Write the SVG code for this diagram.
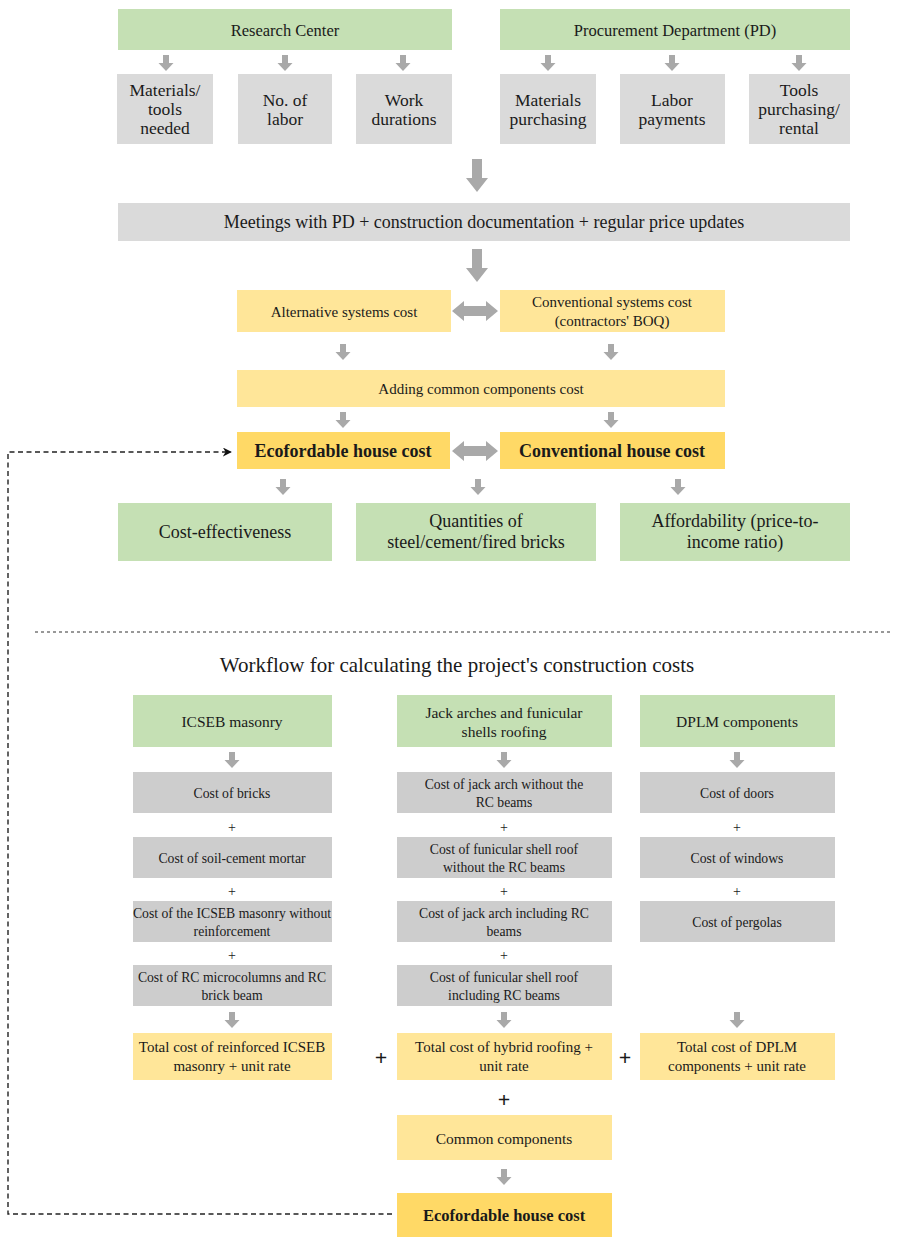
<svg xmlns="http://www.w3.org/2000/svg" xmlns:xlink="http://www.w3.org/1999/xlink" width="899" height="1251" viewBox="0 0 899 1251">
<style>
text{font-family:"Liberation Serif","Times New Roman",serif;fill:#1a1a1a;text-anchor:middle;dominant-baseline:central}
.g{fill:#c5e0b4}
.gr{fill:#dadada}
.gr2{fill:#cdcdcd}
.y{fill:#ffe699}
.yb{fill:#ffd966}
.f16{font-size:16.5px}
.f18{font-size:18px}
.f17{font-size:17.5px}
.ft{font-size:21px}
.f14{font-size:13.7px}
.f13{font-size:15px}
.f15{font-size:15px}
.fh{font-size:15.5px}
.b{font-weight:bold;font-size:18px}
.b2{font-weight:bold;font-size:16.5px}
.pl{font-size:14px}
.pb{font-size:22px;font-weight:bold}
.arr{fill:#a9a9a9}
.dash{fill:none;stroke:#222;stroke-width:1.4;stroke-dasharray:5,3.5}
.sep{fill:none;stroke:#333;stroke-width:1;stroke-dasharray:3,3}
</style>
<defs>
<path id="sa" d="M-3,0 H3 V8 H7.5 L0,16 L-7.5,8 H-3 Z"/>
<path id="ba" d="M-5,0 H5 V19 H11 L0,33 L-11,19 H-5 Z"/>
<marker id="ah" viewBox="0 0 10 10" refX="9" refY="5" markerWidth="9" markerHeight="9" markerUnits="userSpaceOnUse" orient="auto">
<path d="M0,0 L10,5 L0,10 L3,5 Z" fill="#111"/>
</marker>
</defs>
<rect width="899" height="1251" fill="#fff"/>

<g id="connectors">
<g class="arr">
<use xlink:href="#sa" x="166" y="55"/>
<use xlink:href="#sa" x="285" y="55"/>
<use xlink:href="#sa" x="403" y="55"/>
<use xlink:href="#sa" x="548" y="55"/>
<use xlink:href="#sa" x="672" y="55"/>
<use xlink:href="#sa" x="799" y="55"/>
<use xlink:href="#ba" x="477" y="159"/>
<use xlink:href="#ba" x="477" y="249"/>
<path d="M452,311 L464,301 V306 H486 V301 L498,311 L486,321 V316 H464 V321 Z"/>
<use xlink:href="#sa" x="343" y="344"/>
<use xlink:href="#sa" x="611" y="344"/>
<use xlink:href="#sa" x="343" y="412"/>
<use xlink:href="#sa" x="611" y="412"/>
<path d="M452,451 L464,441 V446 H486 V441 L498,451 L486,461 V456 H464 V461 Z"/>
<use xlink:href="#sa" x="283" y="479"/>
<use xlink:href="#sa" x="478" y="479"/>
<use xlink:href="#sa" x="678" y="479"/>
<use xlink:href="#sa" x="232" y="752"/>
<use xlink:href="#sa" x="504" y="752"/>
<use xlink:href="#sa" x="737" y="752"/>
<use xlink:href="#sa" x="232" y="1012"/>
<use xlink:href="#sa" x="504" y="1012"/>
<use xlink:href="#sa" x="737" y="1012"/>
<use xlink:href="#sa" x="504" y="1169"/>
</g>
<path class="dash" d="M392,1214 H8 V452 H231" marker-end="url(#ah)"/>
<path class="sep" d="M35,632 H890"/>
<g class="pl">
<text x="232" y="827">+</text>
<text x="504" y="827">+</text>
<text x="737" y="827">+</text>
<text x="232" y="891">+</text>
<text x="504" y="891">+</text>
<text x="737" y="891">+</text>
<text x="232" y="955">+</text>
<text x="504" y="955">+</text>
</g>
<g class="pb">
<text x="381" y="1057">+</text>
<text x="625" y="1057">+</text>
<text x="504" y="1099">+</text>
</g>
</g>

<g id="research-center"><rect class="g" x="118" y="9" width="334" height="41"/><text class="f16" x="285" y="30">Research Center</text></g>
<g id="procurement"><rect class="g" x="500" y="9" width="350" height="41"/><text class="f16" x="675" y="30">Procurement Department (PD)</text></g>

<g id="materials-tools"><rect class="gr" x="117" y="74" width="96" height="70"/><text class="f17" x="165" y="90">Materials/</text><text class="f17" x="165" y="109">tools</text><text class="f17" x="165" y="128">needed</text></g>
<g id="no-labor"><rect class="gr" x="238" y="74" width="94" height="70"/><text class="f17" x="285" y="100">No. of</text><text class="f17" x="285" y="119">labor</text></g>
<g id="work-durations"><rect class="gr" x="356" y="74" width="96" height="70"/><text class="f17" x="404" y="100">Work</text><text class="f17" x="404" y="119">durations</text></g>
<g id="materials-purchasing"><rect class="gr" x="500" y="74" width="96" height="70"/><text class="f17" x="548" y="100">Materials</text><text class="f17" x="548" y="119">purchasing</text></g>
<g id="labor-payments"><rect class="gr" x="620" y="74" width="105" height="70"/><text class="f17" x="672" y="100">Labor</text><text class="f17" x="672" y="119">payments</text></g>
<g id="tools-purchasing"><rect class="gr" x="749" y="74" width="101" height="70"/><text class="f17" x="799" y="90">Tools</text><text class="f17" x="799" y="109">purchasing/</text><text class="f17" x="799" y="128">rental</text></g>

<g id="meetings"><rect class="gr" x="118" y="203" width="732" height="38"/><text class="f18" x="484" y="222">Meetings with PD + construction documentation + regular price updates</text></g>

<g id="alt-systems"><rect class="y" x="237" y="290" width="214" height="42"/><text class="f13" x="344" y="312">Alternative systems cost</text></g>
<g id="conv-systems"><rect class="y" x="500" y="290" width="225" height="42"/><text class="f13" x="612" y="302">Conventional systems cost</text><text class="f13" x="612" y="321">(contractors' BOQ)</text></g>
<g id="adding-common"><rect class="y" x="237" y="370" width="488" height="37"/><text class="f13" x="481" y="389">Adding common components cost</text></g>
<g id="eco-house-1"><rect class="yb" x="237" y="432" width="213" height="37"/><text class="b" x="343" y="451">Ecofordable house cost</text></g>
<g id="conv-house"><rect class="yb" x="500" y="432" width="225" height="37"/><text class="b" x="612" y="451">Conventional house cost</text></g>

<g id="cost-effectiveness"><rect class="g" x="118" y="503" width="214" height="58"/><text class="f18" x="225" y="532">Cost-effectiveness</text></g>
<g id="quantities"><rect class="g" x="356" y="503" width="240" height="58"/><text class="f18" x="476" y="521">Quantities of</text><text class="f18" x="476" y="542">steel/cement/fired bricks</text></g>
<g id="affordability"><rect class="g" x="620" y="503" width="230" height="58"/><text class="f18" x="735" y="521">Affordability (price-to-</text><text class="f18" x="735" y="542">income ratio)</text></g>

<text class="ft" x="457" y="665">Workflow for calculating the project's construction costs</text>

<g id="icseb"><rect class="g" x="133" y="695" width="199" height="52"/><text class="fh" x="232" y="721">ICSEB masonry</text></g>
<g id="jack-arches"><rect class="g" x="397" y="695" width="215" height="52"/><text class="fh" x="504" y="712">Jack arches and funicular</text><text class="fh" x="504" y="731">shells roofing</text></g>
<g id="dplm"><rect class="g" x="640" y="695" width="195" height="52"/><text class="fh" x="737" y="721">DPLM components</text></g>

<g id="bricks"><rect class="gr2" x="133" y="772" width="199" height="41"/><text class="f14" x="232" y="793">Cost of bricks</text></g>
<g id="jack-arch-wo"><rect class="gr2" x="397" y="772" width="215" height="41"/><text class="f14" x="504" y="784">Cost of jack arch without the</text><text class="f14" x="504" y="802">RC beams</text></g>
<g id="doors"><rect class="gr2" x="640" y="772" width="195" height="41"/><text class="f14" x="737" y="793">Cost of doors</text></g>

<g id="mortar"><rect class="gr2" x="133" y="837" width="199" height="41"/><text class="f14" x="232" y="858">Cost of soil-cement mortar</text></g>
<g id="shell-wo"><rect class="gr2" x="397" y="837" width="215" height="41"/><text class="f14" x="504" y="849">Cost of funicular shell roof</text><text class="f14" x="504" y="867">without the RC beams</text></g>
<g id="windows"><rect class="gr2" x="640" y="837" width="195" height="41"/><text class="f14" x="737" y="858">Cost of windows</text></g>

<g id="masonry-wo"><rect class="gr2" x="133" y="901" width="199" height="41"/><text class="f14" x="232" y="913">Cost of the ICSEB masonry without</text><text class="f14" x="232" y="931">reinforcement</text></g>
<g id="jack-arch-inc"><rect class="gr2" x="397" y="901" width="215" height="41"/><text class="f14" x="504" y="913">Cost of jack arch including RC</text><text class="f14" x="504" y="931">beams</text></g>
<g id="pergolas"><rect class="gr2" x="640" y="901" width="195" height="41"/><text class="f14" x="737" y="922">Cost of pergolas</text></g>

<g id="microcolumns"><rect class="gr2" x="133" y="965" width="199" height="41"/><text class="f14" x="232" y="977">Cost of RC microcolumns and RC</text><text class="f14" x="232" y="995">brick beam</text></g>
<g id="shell-inc"><rect class="gr2" x="397" y="965" width="215" height="41"/><text class="f14" x="504" y="977">Cost of funicular shell roof</text><text class="f14" x="504" y="995">including RC beams</text></g>

<g id="total-icseb"><rect class="y" x="133" y="1033" width="199" height="47"/><text class="f15" x="232" y="1047">Total cost of reinforced ICSEB</text><text class="f15" x="232" y="1066">masonry + unit rate</text></g>
<g id="total-roofing"><rect class="y" x="397" y="1033" width="215" height="47"/><text class="f15" x="504" y="1047">Total cost of hybrid roofing +</text><text class="f15" x="504" y="1066">unit rate</text></g>
<g id="total-dplm"><rect class="y" x="640" y="1033" width="195" height="47"/><text class="f15" x="737" y="1047">Total cost of DPLM</text><text class="f15" x="737" y="1066">components + unit rate</text></g>

<g id="common-components"><rect class="y" x="397" y="1115" width="215" height="45"/><text class="fh" x="504" y="1138">Common components</text></g>
<g id="eco-house-2"><rect class="yb" x="397" y="1193" width="215" height="44"/><text class="b2" x="504" y="1215">Ecofordable house cost</text></g>
</svg>
